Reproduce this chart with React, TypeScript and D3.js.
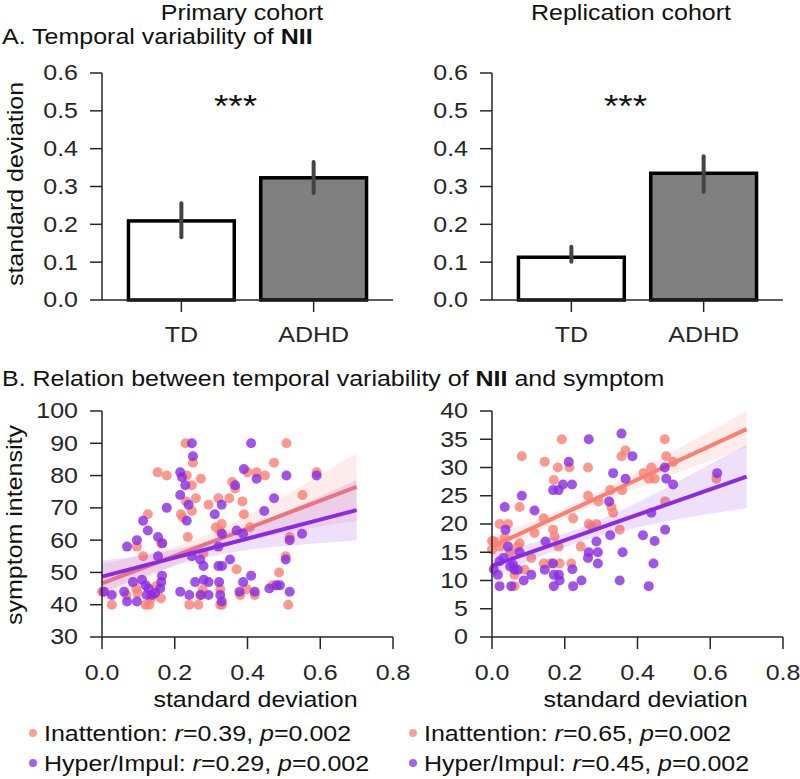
import React from "react";
import * as d3 from "d3";

// ---------- Panel A data ----------
const CATEGORIES = ["TD", "ADHD"];
const PRIMARY_MEAN = [0.209, 0.323];
const PRIMARY_LOW = [0.166, 0.283];
const PRIMARY_HIGH = [0.256, 0.365];
const REPL_MEAN = [0.113, 0.335];
const REPL_LOW = [0.101, 0.286];
const REPL_HIGH = [0.141, 0.38];
const BAR_TICKS = [0, 0.1, 0.2, 0.3, 0.4, 0.5, 0.6];

// ---------- Panel B data ----------
const SD_TICKS = [0, 0.2, 0.4, 0.6, 0.8];
const LEFT_Y_TICKS = [30, 40, 50, 60, 70, 80, 90, 100];
const RIGHT_Y_TICKS = [0, 5, 10, 15, 20, 25, 30, 35, 40];

// [standard deviation, symptom intensity]
const PRIMARY_INATT: [number, number][] = [
  [0.23, 90], [0.25, 84], [0.507, 90], [0.153, 81], [0.178, 80], [0.233, 80], [0.247, 77], [0.272, 79],
  [0.4, 81], [0.425, 81], [0.448, 80], [0.473, 84], [0.59, 81], [0.358, 78], [0.366, 76], [0.258, 73],
  [0.231, 72], [0.247, 69], [0.217, 68], [0.222, 67], [0.236, 61], [0.293, 71], [0.32, 73], [0.35, 73],
  [0.386, 72], [0.39, 68], [0.551, 74], [0.313, 64], [0.329, 65], [0.325, 62.7], [0.407, 64], [0.516, 61],
  [0.279, 56], [0.37, 51], [0.505, 55], [0.487, 50], [0.126, 68], [0.096, 58], [0.113, 55], [0.163, 59],
  [0.027, 40], [0.067, 43], [0.094, 45], [0.12, 40], [0.13, 40], [0.149, 45.7], [0.162, 42], [0.098, 43.6],
  [0.24, 40], [0.265, 40], [0.277, 44.6], [0.27, 43], [0.325, 40], [0.325, 44.8], [0.38, 43], [0.398, 44.8],
  [0.42, 43], [0.469, 46], [0.512, 40], [0.0, 44], [0.135, 42], [0.33, 40]
];
const PRIMARY_HYPER: [number, number][] = [
  [0.247, 90], [0.25, 86], [0.41, 90], [0.215, 81], [0.22, 79.5], [0.229, 77], [0.39, 82], [0.425, 79],
  [0.507, 80], [0.59, 80], [0.366, 77], [0.215, 74], [0.238, 71], [0.233, 66], [0.178, 70], [0.329, 71],
  [0.446, 69], [0.473, 73], [0.31, 68], [0.33, 62], [0.37, 63], [0.388, 62], [0.55, 62], [0.516, 60],
  [0.32, 58], [0.247, 55], [0.27, 54], [0.279, 52], [0.32, 52], [0.33, 52], [0.352, 54], [0.505, 54],
  [0.41, 49], [0.113, 66], [0.126, 63], [0.096, 60], [0.069, 58], [0.154, 55], [0.154, 61], [0.166, 59],
  [0.006, 44], [0.027, 43], [0.061, 44], [0.069, 41], [0.096, 41], [0.085, 47], [0.11, 47.7], [0.12, 46],
  [0.128, 45], [0.123, 43], [0.137, 43], [0.146, 43.6], [0.16, 45], [0.163, 47], [0.165, 49], [0.215, 44],
  [0.24, 43], [0.256, 47], [0.272, 43], [0.28, 47.7], [0.293, 47], [0.293, 43], [0.322, 47], [0.325, 43],
  [0.329, 41], [0.378, 44], [0.388, 47], [0.42, 44], [0.46, 45], [0.48, 46], [0.489, 46], [0.516, 44]
];
const REPL_INATT: [number, number][] = [
  [0.007, 16.9], [0.021, 20], [0.044, 20], [0.035, 17.5], [0.021, 16], [0.0, 17], [0.062, 9], [0.062, 11],
  [0.09, 11.9], [0.071, 16], [0.076, 16.6], [0.076, 23], [0.082, 32], [0.108, 14], [0.117, 18.4], [0.145, 31],
  [0.142, 21], [0.142, 13], [0.168, 19], [0.17, 27.8], [0.172, 17.8], [0.186, 13], [0.183, 16], [0.192, 35],
  [0.181, 30], [0.213, 30], [0.223, 21], [0.218, 13], [0.244, 16], [0.264, 30], [0.264, 25], [0.266, 20],
  [0.273, 19.7], [0.287, 20], [0.293, 24], [0.333, 22], [0.325, 26], [0.351, 19], [0.356, 32], [0.367, 33],
  [0.358, 26], [0.417, 29], [0.438, 30], [0.431, 28], [0.447, 28], [0.475, 35], [0.479, 32], [0.498, 31],
  [0.476, 24], [0.617, 28], [0.328, 23], [0.0, 15.5], [0.05, 15], [0.16, 13]
];
const REPL_HYPER: [number, number][] = [
  [0.035, 23], [0.037, 19], [0.044, 16], [0.021, 13.4], [0.032, 14], [0.016, 11], [0.021, 9], [0.053, 9],
  [0.058, 12.8], [0.062, 11.9], [0.071, 11.9], [0.076, 15], [0.082, 25], [0.087, 10], [0.108, 11], [0.117, 22.4],
  [0.145, 11.9], [0.147, 16.9], [0.168, 26], [0.183, 26], [0.168, 13], [0.17, 11], [0.184, 11], [0.17, 9],
  [0.186, 10], [0.195, 27], [0.211, 31], [0.22, 27], [0.221, 12], [0.223, 9], [0.246, 10], [0.266, 35],
  [0.266, 15], [0.264, 14], [0.287, 16.9], [0.291, 15], [0.291, 13], [0.322, 24], [0.333, 29], [0.325, 18],
  [0.356, 36], [0.386, 32], [0.367, 28], [0.359, 15], [0.351, 10], [0.415, 18], [0.438, 22], [0.447, 17],
  [0.444, 13], [0.431, 9], [0.475, 30], [0.479, 28], [0.498, 27], [0.476, 19], [0.619, 29], [0.005, 12], [0.05, 12.5]
];

// regression fits (value at x = 0 and x = 0.7) and confidence bands
const FIT_X = [0, 0.7];
const PRIMARY_INATT_FIT = [46.6, 76.5];
const PRIMARY_HYPER_FIT = [48.7, 69.3];
const REPL_INATT_FIT = [16.0, 36.8];
const REPL_HYPER_FIT = [12.6, 28.4];

const BAND_X = [0, 0.1, 0.2, 0.3, 0.4, 0.5, 0.6, 0.7];
const PRIMARY_INATT_LO = [40.6, 46.7, 52.2, 56.7, 59.8, 62.1, 64.2, 66.0];
const PRIMARY_INATT_HI = [52.6, 55.1, 58.0, 62.1, 67.6, 73.7, 80.2, 87.0];
const PRIMARY_HYPER_LO = [43.7, 48.1, 52.1, 55.0, 57.0, 58.2, 59.1, 60.0];
const PRIMARY_HYPER_HI = [53.7, 55.1, 57.1, 60.0, 64.0, 68.6, 73.5, 78.6];
const REPL_INATT_LO = [14.2, 17.8, 21.0, 23.9, 26.4, 28.9, 31.2, 33.6];
const REPL_INATT_HI = [17.8, 20.2, 22.8, 25.9, 29.4, 32.9, 36.4, 40.0];
const REPL_HYPER_LO = [10.5, 13.4, 15.9, 18.0, 19.4, 20.7, 21.8, 22.8];
const REPL_HYPER_HI = [14.7, 16.4, 18.3, 20.8, 23.8, 27.1, 30.6, 34.0];

const PRIMARY_STATS = ["0.39", "0.29"];
const REPL_STATS = ["0.65", "0.45"];
const P_VALUE = "0.002";

const ORANGE = "#fa8072";
const PURPLE = "#8a2be2";
const INK = "#262626";
const FONT = "'Liberation Sans', Arial, Helvetica, sans-serif";
const FS = 25;
const SQ = 0.85; // vertical squash of glyphs seen in the reference

function T(props: { x: number; y: number; rotate?: number; anchor?: string; size?: number; fill?: string; children: React.ReactNode }) {
  const { x, y, rotate = 0, anchor = "start", size = FS, fill = "#111", children } = props;
  return (
    <text transform={`translate(${x},${y}) rotate(${rotate}) scale(1,${SQ})`} textAnchor={anchor} fontSize={size} fill={fill}>
      {children}
    </text>
  );
}

const MID = 0.35 * FS * SQ; // offset from tick to baseline

function BarPanel({ x0, x1, mean, low, high }: { x0: number; x1: number; mean: number[]; low: number[]; high: number[] }) {
  const y = d3.scaleLinear().domain([0, 0.6]).range([300, 73]);
  const x = d3.scaleBand().domain(CATEGORIES).range([x0, x1]).padding(0.2);
  const fills = ["#ffffff", "#808080"];
  return (
    <g>
      {CATEGORIES.map((c, i) => (
        <rect key={c} x={x(c)!} y={y(mean[i])} width={x.bandwidth()} height={y(0) - y(mean[i])}
          fill={fills[i]} stroke="#000" strokeWidth={3.5} />
      ))}
      {CATEGORIES.map((c, i) => (
        <line key={"e" + c} x1={x(c)! + x.bandwidth() / 2} x2={x(c)! + x.bandwidth() / 2}
          y1={y(low[i])} y2={y(high[i])} stroke="#444" strokeWidth={4} strokeLinecap="round" />
      ))}
      <line x1={x0} x2={x0} y1={y(0.6)} y2={y(0)} stroke={INK} strokeWidth={1.5} />
      <line x1={x0} x2={x1} y1={y(0)} y2={y(0)} stroke={INK} strokeWidth={1.5} />
      {BAR_TICKS.map((t) => (
        <g key={t}>
          <line x1={x0 - 12} x2={x0} y1={y(t)} y2={y(t)} stroke={INK} strokeWidth={1.5} />
          <T x={x0 - 24} y={y(t) + MID} anchor="end" fill={INK}>{d3.format(".1f")(t)}</T>
        </g>
      ))}
      {CATEGORIES.map((c) => (
        <g key={"t" + c}>
          <line x1={x(c)! + x.bandwidth() / 2} x2={x(c)! + x.bandwidth() / 2} y1={y(0)} y2={y(0) + 12} stroke={INK} strokeWidth={1.5} />
          <T x={x(c)! + x.bandwidth() / 2} y={342} anchor="middle" fill={INK}>{c}</T>
        </g>
      ))}
      <T x={(x0 + x1) / 2 - 12} y={117} anchor="middle" size={37}>***</T>
    </g>
  );
}

function ScatterPanel(props: {
  x0: number; x1: number; yDomain: [number, number]; yTicks: number[];
  inatt: [number, number][]; hyper: [number, number][];
  inattFit: number[]; hyperFit: number[];
  inattLo: number[]; inattHi: number[]; hyperLo: number[]; hyperHi: number[];
}) {
  const { x0, x1, yDomain, yTicks, inatt, hyper } = props;
  const x = d3.scaleLinear().domain([0, 0.8]).range([x0, x1]);
  const y = d3.scaleLinear().domain(yDomain).range([637, 411]);
  const area = (lo: number[], hi: number[]) =>
    d3.area<number>().x((d) => x(d)).y0((_, i) => y(lo[i])).y1((_, i) => y(hi[i])).curve(d3.curveMonotoneX)(BAND_X) || "";
  const line = (fit: number[]) => d3.line<number>().x((d) => x(d)).y((_, i) => y(fit[i]))(FIT_X) || "";
  const group = (pts: [number, number][], fit: number[], lo: number[], hi: number[], color: string) => (
    <g>
      {pts.map((p, i) => (
        <circle key={i} cx={x(p[0])} cy={y(p[1])} r={5} fill={color} fillOpacity={0.8} />
      ))}
      <path d={area(lo, hi)} fill={color} fillOpacity={0.15} />
      <path d={line(fit)} fill="none" stroke={color} strokeWidth={4} />
    </g>
  );
  return (
    <g>
      {group(inatt, props.inattFit, props.inattLo, props.inattHi, ORANGE)}
      {group(hyper, props.hyperFit, props.hyperLo, props.hyperHi, PURPLE)}
      <line x1={x0} x2={x0} y1={y(yDomain[1])} y2={y(yDomain[0])} stroke={INK} strokeWidth={1.5} />
      <line x1={x0} x2={x1} y1={y(yDomain[0])} y2={y(yDomain[0])} stroke={INK} strokeWidth={1.5} />
      {yTicks.map((t) => (
        <g key={"y" + t}>
          <line x1={x0 - 12} x2={x0} y1={y(t)} y2={y(t)} stroke={INK} strokeWidth={1.5} />
          <T x={x0 - 24} y={y(t) + MID} anchor="end" fill={INK}>{t}</T>
        </g>
      ))}
      {SD_TICKS.map((t) => (
        <g key={"x" + t}>
          <line x1={x(t)} x2={x(t)} y1={y(yDomain[0])} y2={y(yDomain[0]) + 12} stroke={INK} strokeWidth={1.5} />
          <T x={x(t)} y={680} anchor="middle" fill={INK}>{d3.format(".1f")(t)}</T>
        </g>
      ))}
      <T x={(x0 + x1) / 2 + 8} y={707} anchor="middle">standard deviation</T>
    </g>
  );
}

function Legend({ x0, stats }: { x0: number; stats: string[] }) {
  const rows = [
    { label: "Inattention", color: ORANGE, r: stats[0], y: 741 },
    { label: "Hyper/Impul", color: PURPLE, r: stats[1], y: 771 },
  ];
  return (
    <g>
      {rows.map((row) => (
        <g key={row.label}>
          <circle cx={x0} cy={row.y - 8} r={4} fill={row.color} fillOpacity={0.75} />
          <T x={x0 + 11} y={row.y}>
            {row.label}: <tspan fontStyle="italic">r</tspan>={row.r}, <tspan fontStyle="italic">p</tspan>={P_VALUE}
          </T>
        </g>
      ))}
    </g>
  );
}

export default function App() {
  return (
    <svg width={800} height={779} style={{ position: "absolute", left: 0, top: 0, background: "#fff" }}
      fontFamily={FONT}>
      <rect width={800} height={779} fill="#fff" />
      <T x={242} y={20} anchor="middle">Primary cohort</T>
      <T x={631} y={20} anchor="middle">Replication cohort</T>
      <T x={2} y={44}>A. Temporal variability of <tspan fontWeight="bold">NII</tspan></T>
      <T x={23} y={184} rotate={-90} anchor="middle">standard deviation</T>
      <BarPanel x0={102} x1={393} mean={PRIMARY_MEAN} low={PRIMARY_LOW} high={PRIMARY_HIGH} />
      <BarPanel x0={492} x1={783} mean={REPL_MEAN} low={REPL_LOW} high={REPL_HIGH} />

      <T x={2} y={386}>B. Relation between temporal variability of <tspan fontWeight="bold">NII</tspan> and symptom</T>
      <T x={22} y={525} rotate={-90} anchor="middle">symptom intensity</T>
      <ScatterPanel x0={102} x1={393} yDomain={[30, 100]} yTicks={LEFT_Y_TICKS}
        inatt={PRIMARY_INATT} hyper={PRIMARY_HYPER}
        inattFit={PRIMARY_INATT_FIT} hyperFit={PRIMARY_HYPER_FIT}
        inattLo={PRIMARY_INATT_LO} inattHi={PRIMARY_INATT_HI} hyperLo={PRIMARY_HYPER_LO} hyperHi={PRIMARY_HYPER_HI} />
      <ScatterPanel x0={492} x1={783} yDomain={[0, 40]} yTicks={RIGHT_Y_TICKS}
        inatt={REPL_INATT} hyper={REPL_HYPER}
        inattFit={REPL_INATT_FIT} hyperFit={REPL_HYPER_FIT}
        inattLo={REPL_INATT_LO} inattHi={REPL_INATT_HI} hyperLo={REPL_HYPER_LO} hyperHi={REPL_HYPER_HI} />
      <Legend x0={33} stats={PRIMARY_STATS} />
      <Legend x0={413} stats={REPL_STATS} />
    </svg>
  );
}
